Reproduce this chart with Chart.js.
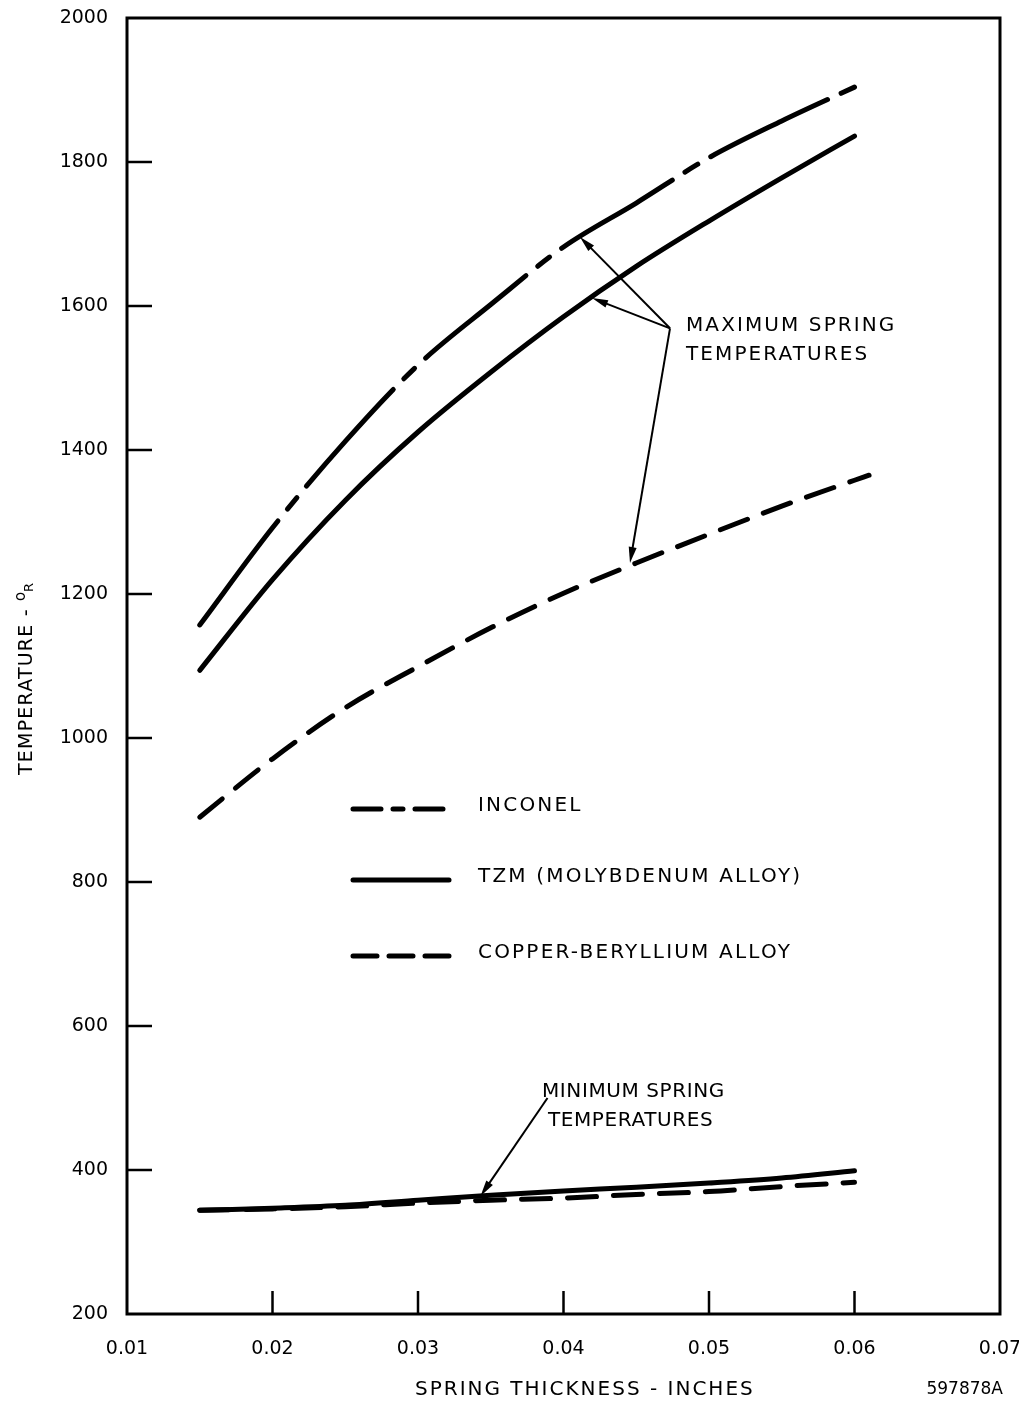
<!DOCTYPE html>
<html>
<head>
<meta charset="utf-8">
<script src="https://cdn.jsdelivr.net/npm/chart.js@4.4.1/dist/chart.umd.min.js"></script>
<style>
  html, body { margin: 0; padding: 0; background: #fff; }
  #wrap { width: 1019px; height: 1403px; }
</style>
</head>
<body>
<div id="wrap"><canvas id="chart"></canvas></div>
<script>
// Spring temperature vs. spring thickness (fig. 597878A)

// x values (inches)
var thickness = [0.015, 0.020, 0.025, 0.030, 0.035, 0.040, 0.045, 0.050, 0.055, 0.060];
var cubeThickness = [0.015, 0.020, 0.025, 0.030, 0.035, 0.040, 0.045, 0.050, 0.055, 0.060, 0.061];

// maximum spring temperatures, deg R
var inconelMax = [1157, 1292, 1412, 1518, 1602, 1682, 1743, 1806, 1857, 1904];
var tzmMax = [1094, 1220, 1330, 1425, 1508, 1585, 1655, 1718, 1778, 1836];
var cubeMax = [890, 971, 1042, 1099, 1153, 1201, 1243, 1283, 1322, 1358, 1365];

// minimum spring temperatures, deg R
var tzmMin = [344, 347, 351, 358, 365, 371, 376, 382, 389, 399];
var cubeMin = [344, 346, 349, 354, 358, 361, 366, 370, 377, 383];

var legendNames = ['INCONEL', 'TZM (MOLYBDENUM ALLOY)', 'COPPER-BERYLLIUM ALLOY'];
var maxNoteText = ['MAXIMUM SPRING', 'TEMPERATURES'];
var minNoteText = ['MINIMUM SPRING', 'TEMPERATURES'];
var xTitle = 'SPRING THICKNESS - INCHES';
var yTitle = 'TEMPERATURE - ';
var figCode = '597878A';

// line styles
var INCONEL_DASH = [130, 15, 15, 15];
var CUBE_DASH = [29, 17];
var FONT = "'DejaVu Sans', sans-serif";

function pts(xs, ys) {
  return xs.map(function (x, i) { return { x: x, y: ys[i] }; });
}

function line(label, xs, ys, dash) {
  return {
    label: label,
    data: pts(xs, ys),
    borderColor: '#000',
    borderWidth: 5,
    borderDash: dash,
    borderCapStyle: 'round',
    borderJoinStyle: 'round',
    pointRadius: 0,
    cubicInterpolationMode: 'monotone',
    fill: false
  };
}

function spaced(ctx, px) {
  if ('letterSpacing' in ctx) ctx.letterSpacing = px + 'px';
}

function arrow(ctx, x0, y0, x1, y1) {
  var ang = Math.atan2(y1 - y0, x1 - x0);
  var len = 16, half = 4;
  ctx.beginPath();
  ctx.moveTo(x0, y0);
  ctx.lineTo(x1 - Math.cos(ang) * (len - 2), y1 - Math.sin(ang) * (len - 2));
  ctx.stroke();
  ctx.beginPath();
  ctx.moveTo(x1, y1);
  ctx.lineTo(x1 - Math.cos(ang) * len - Math.sin(ang) * half, y1 - Math.sin(ang) * len + Math.cos(ang) * half);
  ctx.lineTo(x1 - Math.cos(ang) * len + Math.sin(ang) * half, y1 - Math.sin(ang) * len - Math.cos(ang) * half);
  ctx.closePath();
  ctx.fill();
}

var decor = {
  id: 'decor',
  afterDraw: function (chart) {
    var ctx = chart.ctx, a = chart.chartArea;
    var xs = chart.scales.x, ys = chart.scales.y;
    var X = function (v) { return xs.getPixelForValue(v); };
    var Y = function (v) { return ys.getPixelForValue(v); };
    ctx.save();
    ctx.strokeStyle = '#000';
    ctx.fillStyle = '#000';
    ctx.setLineDash([]);

    // frame
    ctx.lineWidth = 3;
    ctx.strokeRect(a.left, a.top, a.right - a.left, a.bottom - a.top);

    // inward tick marks
    ctx.lineWidth = 2.5;
    ys.ticks.forEach(function (t) {
      if (t.value <= ys.min || t.value >= ys.max) return;
      var y = Y(t.value);
      ctx.beginPath(); ctx.moveTo(a.left, y); ctx.lineTo(a.left + 25, y); ctx.stroke();
    });
    xs.ticks.forEach(function (t) {
      if (t.value <= xs.min + 1e-9 || t.value >= xs.max - 1e-9) return;
      var x = X(t.value);
      ctx.beginPath(); ctx.moveTo(x, a.bottom); ctx.lineTo(x, a.bottom - 23); ctx.stroke();
    });

    // legend
    var rows = [a.top + 791, a.top + 862, a.top + 938];
    var dashes = [[28, 12, 10, 12], [], [24, 12]];
    ctx.lineWidth = 5;
    ctx.lineCap = 'round';
    ctx.font = '20px ' + FONT;
    ctx.textBaseline = 'middle';
    ctx.textAlign = 'left';
    spaced(ctx, 2.2);
    legendNames.forEach(function (name, i) {
      ctx.setLineDash(dashes[i]);
      ctx.beginPath();
      ctx.moveTo(a.left + 226, rows[i]);
      ctx.lineTo(a.left + 322, rows[i]);
      ctx.stroke();
      ctx.setLineDash([]);
      ctx.fillText(name, a.left + 351, rows[i] - 3);
    });

    // maximum temperature note
    ctx.lineCap = 'butt';
    ctx.lineWidth = 2;
    var hx = X(0.04732), hy = Y(1569);
    arrow(ctx, hx, hy, X(0.04113), Y(1696));
    arrow(ctx, hx, hy, X(0.04196), Y(1611));
    arrow(ctx, hx, hy, X(0.04457), Y(1243));
    spaced(ctx, 2.1);
    ctx.fillText(maxNoteText[0], X(0.04842), Y(1572));
    ctx.fillText(maxNoteText[1], X(0.04842), Y(1532));

    // minimum temperature note
    arrow(ctx, X(0.0389), Y(500), X(0.0343), Y(364));
    spaced(ctx, 0.6);
    ctx.fillText(minNoteText[0], X(0.03852), Y(508));
    ctx.fillText(minNoteText[1], X(0.03893), Y(468));

    // axis titles
    ctx.font = '20px ' + FONT;
    spaced(ctx, 2);
    ctx.fillText(xTitle, 415, 1390);
    spaced(ctx, 0);
    ctx.font = '17px ' + FONT;
    ctx.textAlign = 'right';
    ctx.fillText(figCode, 1003, 1390);

    ctx.translate(27, 678);
    ctx.rotate(-Math.PI / 2);
    ctx.font = '19px ' + FONT;
    spaced(ctx, 1.2);
    var w = ctx.measureText(yTitle).width + 20;
    ctx.textAlign = 'left';
    ctx.fillText(yTitle, -w / 2, 0);
    spaced(ctx, 0);
    var x0 = w / 2 - 20;
    ctx.font = '15px ' + FONT;
    ctx.fillText('o', x0, -6);
    ctx.font = '13px ' + FONT;
    ctx.fillText('R', x0 + 9, 3);
    ctx.restore();
  }
};

new Chart(document.getElementById('chart'), {
  type: 'line',
  data: {
    datasets: [
      line('Inconel max', thickness, inconelMax, INCONEL_DASH),
      line('TZM max', thickness, tzmMax, []),
      line('Copper-beryllium max', cubeThickness, cubeMax, CUBE_DASH),
      line('Copper-beryllium min', thickness, cubeMin, CUBE_DASH),
      line('TZM min', thickness, tzmMin, [])
    ]
  },
  options: {
    responsive: true,
    maintainAspectRatio: false,
    animation: false,
    layout: { padding: { top: 18, right: 19, bottom: 0, left: 0 } },
    plugins: { legend: { display: false }, tooltip: { enabled: false } },
    scales: {
      x: {
        type: 'linear',
        min: 0.01,
        max: 0.07,
        afterFit: function (s) {
          s.height = 89;
          s.paddingLeft = 0;
          s.paddingRight = 0;
        },
        grid: { display: false, drawTicks: false },
        border: { display: false },
        ticks: {
          stepSize: 0.01,
          padding: 24,
          color: '#000',
          font: { family: FONT, size: 19 },
          maxRotation: 0,
          callback: function (v) { return Number(v).toFixed(2); }
        }
      },
      y: {
        min: 200,
        max: 2000,
        afterFit: function (s) {
          s.width = 127;
          s.paddingTop = 0;
          s.paddingBottom = 0;
        },
        grid: { display: false, drawTicks: false },
        border: { display: false },
        ticks: {
          stepSize: 200,
          padding: 19,
          color: '#000',
          font: { family: FONT, size: 19 },
          callback: function (v) { return String(v); }
        }
      }
    }
  },
  plugins: [decor]
});
</script>
</body>
</html>
